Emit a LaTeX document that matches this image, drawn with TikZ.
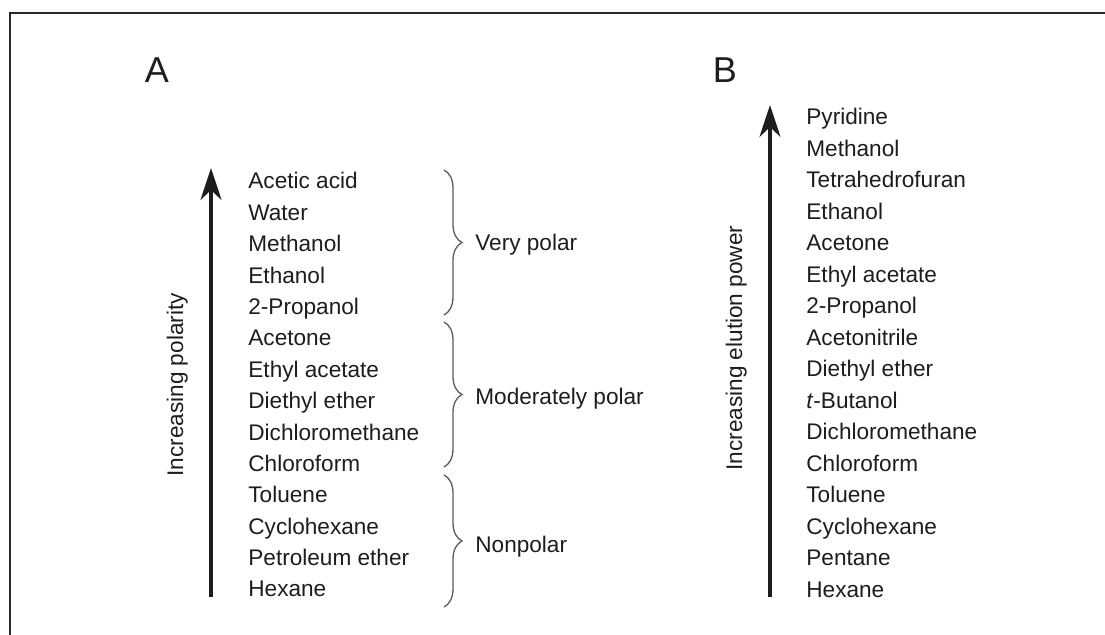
\documentclass[tikz,border=0pt]{standalone}
\usepackage{fontspec}
\setmainfont{Liberation Sans}
\usetikzlibrary{arrows.meta, decorations.pathreplacing, positioning}
\definecolor{textcol}{RGB}{30,28,30}
\definecolor{bracecol}{RGB}{90,90,90}
\definecolor{framecol}{RGB}{40,40,40}

\begin{document}
\begin{tikzpicture}[
			x=0.5pt,
			y=-0.5pt,
			solvent/.style={
				anchor=base west,
				inner sep=0pt,
				font=\fontsize{11.3}{13}\selectfont,
				text=textcol
			},
			panel/.style={
				inner sep=0pt,
				font=\fontsize{18}{20}\selectfont,
				text=textcol
			},
			axislabel/.style={
				rotate=90,
				anchor=base west,
				inner sep=0pt,
				font=\fontsize{11.3}{13}\selectfont,
				text=textcol
			},
			scalearrow/.style={
				draw=textcol,
				line width=1.6pt,
				-{Stealth[length=16pt, width=10.5pt, inset=5pt]}
			},
			groupbrace/.style={
				draw=bracecol,
				line width=0.65pt,
				decorate,
				decoration={brace, amplitude=9pt}
			}
			]
			\useasboundingbox (0,0) rectangle (1105,635);
			
			% Frame
			\draw[framecol, line width=1.2pt] (1105,13) -- (10,13) -- (10,635);
			
			% Panel letters
			\node[panel] (labA) at (157,70) {A};
			\node[panel] (labB) at (725,70) {B};
			
			% A: solvents by polarity
			\foreach \name [count=\i from 0] in {Acetic acid, Water, Methanol, Ethanol, 2-Propanol, Acetone, Ethyl acetate, Diethyl ether, Dichloromethane, Chloroform, Toluene, Cyclohexane, Petroleum ether, Hexane}
				\node[solvent] (a\i) at (248,189+31.38*\i) {\name};
			
			\coordinate (Abot) at (211,597);
			\coordinate (Atop) at (211,168);
			\draw[scalearrow] (Abot) -- (Atop);
			\node[axislabel] (polA) at (183,477) {Increasing polarity};
			
			% Groups
			\coordinate (g1t) at (444,170);
			\coordinate (g1b) at (444,315);
			\coordinate (g2t) at (444,322);
			\coordinate (g2b) at (444,467);
			\coordinate (g3t) at (444,475);
			\coordinate (g3b) at (444,607);
			\draw[groupbrace] (g1t) -- (g1b);
			\draw[groupbrace] (g2t) -- (g2b);
			\draw[groupbrace] (g3t) -- (g3b);
			\node[solvent] (vpolar) at (475,251) {Very polar};
			\node[solvent] (mpolar) at (475,405) {Moderately polar};
			\node[solvent] (npolar) at (475,553) {Nonpolar};
			
			% B: eluotropic series
			\foreach \name [count=\i from 0] in {Pyridine, Methanol, Tetrahedrofuran, Ethanol, Acetone, Ethyl acetate, 2-Propanol, Acetonitrile, Diethyl ether, \textit{t}-Butanol, Dichloromethane, Chloroform, Toluene, Cyclohexane, Pentane, Hexane}
				\node[solvent] (b\i) at (806,125+31.47*\i) {\name};
			
			\coordinate (Bbot) at (770,597);
			\coordinate (Btop) at (770,105);
			\draw[scalearrow] (Bbot) -- (Btop);
			\node[axislabel] (eluB) at (742,471) {Increasing elution power};
		\end{tikzpicture}
\end{document}
